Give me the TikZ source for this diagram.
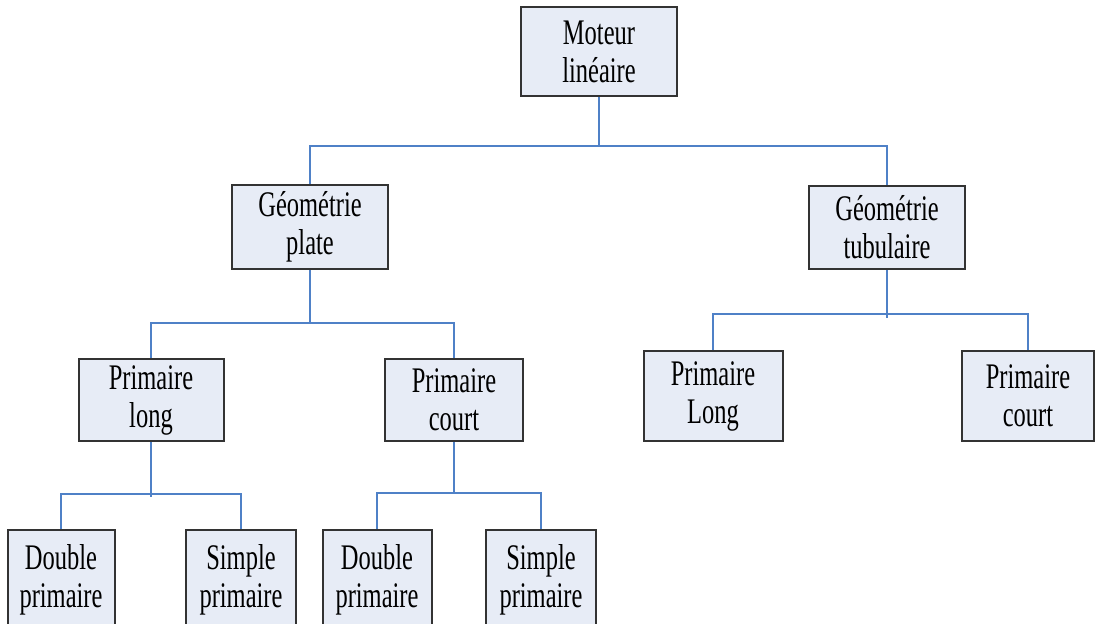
\documentclass[tikz,border=0pt]{standalone}
\usepackage{fontspec}
\setmainfont[FakeStretch=0.68]{Liberation Serif}
\definecolor{fondboite}{RGB}{231,236,246}
\definecolor{bleulien}{RGB}{79,129,199}
\tikzset{
  boite/.style={draw=black!80, line width=1pt, fill=fondboite, rectangle, inner sep=0pt,
    align=center, font=\fontsize{18}{19}\selectfont},
  lien/.style={draw=bleulien, line width=0.8pt}
}
\begin{document}
\begin{tikzpicture}[x=0.5pt, y=-0.5pt]
		\useasboundingbox (0,0) rectangle (1095,623);
		\clip (0,0) rectangle (1095,623);

		% niveau 0
		\node[boite, minimum width=78pt, minimum height=44.5pt] (moteur) at (599,51.5) {Moteur\\linéaire};

		% niveau 1
		\node[boite, minimum width=78pt, minimum height=42pt] (plate) at (310,227) {Géométrie\\plate};
		\node[boite, minimum width=78pt, minimum height=41.5pt] (tub) at (887,227.5) {Géométrie\\tubulaire};

		% niveau 2
		\node[boite, minimum width=72.5pt, minimum height=41pt] (plong) at (151,400) {Primaire\\long};
		\node[boite, minimum width=69pt, minimum height=41pt] (pcourt) at (454,400) {Primaire\\court};
		\node[boite, minimum width=69.5pt, minimum height=45pt] (tlong) at (713,396) {Primaire\\Long};
		\node[boite, minimum width=66pt, minimum height=45pt] (tcourt) at (1028,396) {Primaire\\court};

		% niveau 3
		\node[boite, minimum width=53.5pt, minimum height=50pt] (dbla) at (61,580) {Double\\primaire};
		\node[boite, minimum width=55pt, minimum height=50pt] (smpa) at (241,580) {Simple\\primaire};
		\node[boite, minimum width=54.5pt, minimum height=50pt] (dblb) at (377,580) {Double\\primaire};
		\node[boite, minimum width=55pt, minimum height=50pt] (smpb) at (541,580) {Simple\\primaire};

		% bus
		\coordinate (bus0) at (599,146);
		\coordinate (busp) at (310,323);
		\coordinate (bust) at (887,314);
		\coordinate (busl) at (151,494);
		\coordinate (busc) at (454,493);

		\draw[lien] (moteur.south) -- (bus0);
		\draw[lien] (plate.north) |- (bus0) -| (tub.north);

		\draw[lien] (plate.south) -- (busp);
		\draw[lien] (plong.north) |- (busp) -| (pcourt.north);

		\draw[lien] (tub.south) -- ([yshift=-2pt]bust);
		\draw[lien] (tlong.north) |- (bust) -| (tcourt.north);

		\draw[lien] (plong.south) -- ([yshift=-1.5pt]busl);
		\draw[lien] (dbla.north) |- (busl) -| (smpa.north);

		\draw[lien] (pcourt.south) -- (busc);
		\draw[lien] (dblb.north) |- (busc) -| (smpb.north);
\end{tikzpicture}
\end{document}
